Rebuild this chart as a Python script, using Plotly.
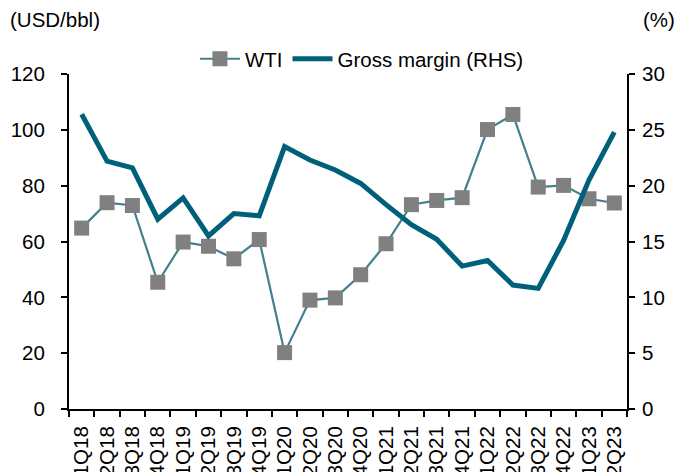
import plotly.graph_objects as go

quarters = ["1Q18", "2Q18", "3Q18", "4Q18", "1Q19", "2Q19", "3Q19", "4Q19",
            "1Q20", "2Q20", "3Q20", "4Q20", "1Q21", "2Q21", "3Q21", "4Q21",
            "1Q22", "2Q22", "3Q22", "4Q22", "1Q23", "2Q23"]
wti = [64.8, 73.9, 72.9, 45.4, 59.8, 58.3, 53.8, 60.7,
       20.2, 39.0, 39.8, 48.1, 59.2, 73.2, 74.7, 75.7,
       100.1, 105.5, 79.5, 80.1, 75.3, 73.8]
gross_margin = [26.4, 22.2, 21.6, 17.0, 18.9, 15.5, 17.5, 17.3,
                23.5, 22.3, 21.4, 20.2, 18.3, 16.5, 15.2, 12.8,
                13.3, 11.1, 10.8, 15.1, 20.5, 24.8]
left_ticks = [0, 20, 40, 60, 80, 100, 120]
right_ticks = [0, 5, 10, 15, 20, 25, 30]

FONT = "Liberation Sans, Arial, sans-serif"

fig = go.Figure()
fig.add_trace(go.Scatter(
    x=quarters, y=wti, name="WTI", mode="lines+markers",
    line=dict(color="#41808F", width=2.2),
    marker=dict(symbol="square", size=15, color="#808080"),
    yaxis="y"))
fig.add_trace(go.Scatter(
    x=quarters, y=gross_margin, name="Gross margin (RHS)", mode="lines",
    line=dict(color="#00607A", width=5),
    yaxis="y2"))

fig.update_layout(
    width=681, height=472,
    margin=dict(l=69, r=54, t=74, b=63, autoexpand=False),
    paper_bgcolor="white", plot_bgcolor="white",
    font=dict(family=FONT, size=20.5, color="black"),
    showlegend=True,
    legend=dict(orientation="h", x=0.525, xanchor="center", y=1.045, yanchor="middle",
                font=dict(size=20.5), bgcolor="rgba(0,0,0,0)", itemwidth=40,
                tracegroupgap=0),
    xaxis=dict(type="category", tickangle=-90, showgrid=False,
               showline=True, linecolor="black", linewidth=2,
               ticks="outside", ticklen=6, tickwidth=2, tickcolor="black",
               tickson="boundaries", automargin=False, ticklabelstandoff=7,
               range=[-0.5, len(quarters) - 0.5],
               tickfont=dict(size=20.5)),
    yaxis=dict(range=[0, 120], tickvals=left_ticks, showgrid=False, zeroline=False,
               showline=True, linecolor="black", linewidth=2,
               ticks="outside", ticklen=6, tickwidth=2, tickcolor="black",
               automargin=False, ticklabelstandoff=12, tickfont=dict(size=20.5)),
    yaxis2=dict(range=[0, 30], tickvals=right_ticks, overlaying="y", side="right",
                showgrid=False, zeroline=False,
                showline=True, linecolor="black", linewidth=2,
                ticks="outside", ticklen=6, tickwidth=2, tickcolor="black",
                automargin=False, ticklabelstandoff=3, tickfont=dict(size=20.5)),
    annotations=[
        dict(text="(USD/bbl)", xref="paper", yref="paper", x=-0.11, y=1.162,
             xanchor="left", yanchor="middle", showarrow=False, font=dict(size=20.5)),
        dict(text="(%)", xref="paper", yref="paper", x=1.09, y=1.162,
             xanchor="right", yanchor="middle", showarrow=False, font=dict(size=20.5)),
    ],
)

fig.write_html("out.html", config={"displayModeBar": False},
               post_script="document.body.style.margin='0';document.body.style.overflow='hidden';")
